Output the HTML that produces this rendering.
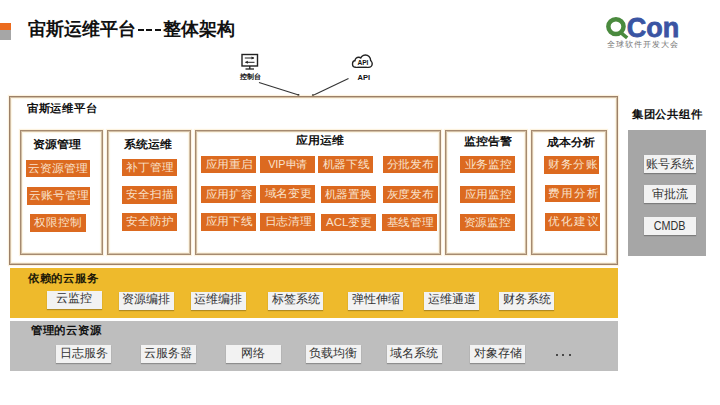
<!DOCTYPE html>
<html><head><meta charset="utf-8">
<style>
*{margin:0;padding:0;box-sizing:border-box}
html,body{width:720px;height:405px;overflow:hidden;background:#fff}
body{position:relative;font-family:"Liberation Sans",sans-serif;color:#111}
.a{position:absolute}
.t{position:absolute;white-space:nowrap;line-height:1}
.box{position:absolute;border:1px solid #a58a70;box-shadow:inset 0 0 0 1px rgba(175,145,115,.55),0 0 1px 1px rgba(250,225,175,.4),inset 0 0 1px 2px rgba(250,225,175,.35)}
.ob{position:absolute;background:#dc6a20;color:#f9e2cc;font-size:12px;line-height:16.5px;text-align:center;white-space:nowrap;height:17.5px;width:55px}
.wb{position:absolute;background:#f2f2f2;color:#333;font-size:12px;line-height:18px;text-align:center;white-space:nowrap;height:18px;width:55px;box-shadow:0 1px 1px rgba(0,0,0,.25)}
.h{font-weight:bold;font-size:12px}
.ob span{display:inline-block;transform:scale(0.96,0.9)}
.h6{transform:scale(0.975,0.94);transform-origin:0 0}
.h4{transform:scale(1,0.92);transform-origin:0 0}
</style></head><body>

<!-- title bar marker -->
<div class="a" style="left:0;top:23px;width:11px;height:7px;background:#ec6b1e"></div>
<div class="a" style="left:0;top:30px;width:11px;height:10px;background:#a6a6a6"></div>
<div class="t" style="left:28px;top:19.7px;font-size:18px;font-weight:bold;color:#111">宙斯运维平台</div>
<div class="a" style="left:138px;top:29px;width:6px;height:2px;background:#111"></div>
<div class="a" style="left:146.3px;top:29px;width:6px;height:2px;background:#111"></div>
<div class="a" style="left:154.6px;top:29px;width:6px;height:2px;background:#111"></div>
<div class="t" style="left:163px;top:19.7px;font-size:18px;font-weight:bold;color:#111">整体架构</div>

<!-- QCon logo -->
<svg class="a" style="left:0;top:0" width="720" height="50">
<ellipse cx="615.95" cy="26.6" rx="7.6" ry="7.3" fill="none" stroke="#4a8a3e" stroke-width="4.5"/>
<line x1="621" y1="32.8" x2="627.2" y2="37.8" stroke="#4a8a3e" stroke-width="3.6"/>
</svg>
<div class="t" style="left:626.8px;top:14.5px;font-size:27px;font-weight:bold;letter-spacing:0px;color:#3a55a3;-webkit-text-stroke:0.8px #3a55a3">Con</div>
<div class="t" style="left:607px;top:41.3px;font-size:8px;color:#777;letter-spacing:1px">全球软件开发大会</div>

<!-- icons -->
<svg class="a" style="left:0;top:0" width="720" height="110">
  <rect x="242" y="54.5" width="15.5" height="11.5" fill="none" stroke="#222" stroke-width="1.4"/>
  <line x1="249.8" y1="66" x2="249.8" y2="69" stroke="#222" stroke-width="1.3"/>
  <line x1="245.5" y1="69" x2="254" y2="69" stroke="#222" stroke-width="1.3"/>
  <line x1="244.8" y1="58" x2="254" y2="58" stroke="#222" stroke-width="1"/>
  <path d="M251.5 56.5 L254.3 58 L251.5 59.5Z" fill="#222"/>
  <line x1="245.5" y1="62.3" x2="254.5" y2="62.3" stroke="#222" stroke-width="1"/>
  <path d="M247.8 60.8 L245 62.3 L247.8 63.8Z" fill="#222"/>
  <circle cx="355.9" cy="63.9" r="4.1" fill="#222"/><circle cx="358.6" cy="60.8" r="4.2" fill="#222"/><circle cx="365.4" cy="60.2" r="5.9" fill="#222"/><circle cx="368.6" cy="63.7" r="4.3" fill="#222"/><rect x="355.9" y="60" width="12.7" height="8.0" fill="#222"/><circle cx="355.9" cy="63.9" r="2.7" fill="#fff"/><circle cx="358.6" cy="60.8" r="2.8" fill="#fff"/><circle cx="365.4" cy="60.2" r="4.5" fill="#fff"/><circle cx="368.6" cy="63.7" r="2.9000000000000004" fill="#fff"/><rect x="355.9" y="60" width="12.7" height="6.599999999999994" fill="#fff"/>
  <line x1="259" y1="82.5" x2="298.6" y2="95.1" stroke="#333" stroke-width="1.1"/><circle cx="298.4" cy="95" r="1.1" fill="#222"/>
  <line x1="348.5" y1="78.5" x2="312.8" y2="95.4" stroke="#333" stroke-width="1.1"/><circle cx="312.9" cy="95.3" r="1.1" fill="#222"/>
</svg>
<div class="t" style="left:357.4px;top:59.8px;font-size:6.6px;font-weight:bold">API</div>
<div class="t" style="left:240px;top:73.3px;font-size:7px;font-weight:bold">控制台</div>
<div class="t" style="left:357.5px;top:74px;font-size:7.5px;font-weight:bold">API</div>

<!-- platform box -->
<div class="box" style="left:9px;top:96px;width:609px;height:169px;border-color:#9c8068"></div>
<div class="t h h6" style="left:27.3px;top:102.6px;font-size:12px">宙斯运维平台</div>

<!-- sub boxes -->
<div class="box" style="left:20px;top:130px;width:83px;height:125px"></div>
<div class="t h h4" style="left:33.2px;top:139.0px">资源管理</div>
<div class="ob" style="left:26px;top:159.5px;width:64px"><span style="transform:scale(0.99,0.92)">云资源管理</span></div>
<div class="ob" style="left:27px;top:187px;width:63px"><span style="transform:scale(0.99,0.92)">云账号管理</span></div>
<div class="ob" style="left:30px;top:214px;width:55.5px"><span style="transform:scale(1,0.95)">权限控制</span></div>

<div class="box" style="left:107px;top:130px;width:84px;height:125px"></div>
<div class="t h h4" style="left:124px;top:139.1px">系统运维</div>
<div class="ob" style="left:122px;top:158.5px"><span style="transform:scale(1,0.95)">补丁管理</span></div>
<div class="ob" style="left:122px;top:186px"><span style="transform:scale(1,0.95)">安全扫描</span></div>
<div class="ob" style="left:122px;top:213px"><span style="transform:scale(1,0.95)">安全防护</span></div>

<div class="box" style="left:194.5px;top:130px;width:246.5px;height:125px"></div>
<div class="t h h4" style="left:295.6px;top:134.7px">应用运维</div>
<div class="ob" style="left:201px;top:155.5px"><span>应用重启</span></div>
<div class="ob" style="left:260px;top:155.5px"><span style="transform:scale(0.9,0.9)">VIP申请</span></div>
<div class="ob" style="left:318px;top:155.5px"><span>机器下线</span></div>
<div class="ob" style="left:382.5px;top:155.5px"><span>分批发布</span></div>
<div class="ob" style="left:201px;top:185.5px"><span>应用扩容</span></div>
<div class="ob" style="left:260px;top:185px"><span>域名变更</span></div>
<div class="ob" style="left:320.5px;top:185.5px"><span>机器置换</span></div>
<div class="ob" style="left:382.5px;top:185.5px"><span>灰度发布</span></div>
<div class="ob" style="left:201px;top:213px"><span>应用下线</span></div>
<div class="ob" style="left:260px;top:213px"><span>日志清理</span></div>
<div class="ob" style="left:321px;top:213.5px"><span>ACL变更</span></div>
<div class="ob" style="left:382px;top:213.5px"><span>基线管理</span></div>

<div class="box" style="left:445px;top:130px;width:82px;height:125px"></div>
<div class="t h h4" style="left:463.5px;top:135.8px">监控告警</div>
<div class="ob" style="left:460px;top:155.5px"><span>业务监控</span></div>
<div class="ob" style="left:460px;top:185.5px"><span>应用监控</span></div>
<div class="ob" style="left:459.5px;top:213.5px"><span>资源监控</span></div>

<div class="box" style="left:531px;top:130px;width:76px;height:125px"></div>
<div class="t h h4" style="left:547px;top:136.9px">成本分析</div>
<div class="ob" style="left:544px;top:156px"><span style="transform:scale(1,0.95);letter-spacing:0.7px;margin-right:-0.7px;position:relative;left:1.5px">财务分账</span></div>
<div class="ob" style="left:544.5px;top:184.5px"><span style="transform:scale(1,0.95);letter-spacing:0.7px;margin-right:-0.7px;position:relative;left:1.5px">费用分析</span></div>
<div class="ob" style="left:544.5px;top:213px"><span style="transform:scale(1,0.95);letter-spacing:0.7px;margin-right:-0.7px;position:relative;left:1.5px">优化建议</span></div>

<!-- group components -->
<div class="t h h6" style="left:632.3px;top:109.1px;font-size:12px">集团公共组件</div>
<div class="a" style="left:628px;top:130px;width:78px;height:126px;background:#a6a6a6"></div>
<div class="wb" style="left:644px;top:155px;width:52px;line-height:18.4px">账号系统</div>
<div class="wb" style="left:644px;top:185px;width:52px;line-height:18px">审批流</div>
<div class="wb" style="left:644px;top:216.5px;width:52px;line-height:18.6px"><span style="display:inline-block;transform:scaleX(0.9)">CMDB</span></div>

<!-- cloud services -->
<div class="a" style="left:10px;top:268px;width:608px;height:49.5px;background:#eeba2c"></div>
<div class="t h h6" style="left:28px;top:273px;font-size:12px;color:#221a08">依赖的云服务</div>
<div class="wb" style="line-height:15.8px;left:46.5px;top:290.5px">云监控</div>
<div class="wb" style="line-height:15.8px;left:118.75px;top:292px">资源编排</div>
<div class="wb" style="line-height:15.8px;left:190.75px;top:292px">运维编排</div>
<div class="wb" style="line-height:15.8px;left:268.25px;top:292px">标签系统</div>
<div class="wb" style="line-height:15.8px;left:348px;top:292px">弹性伸缩</div>
<div class="wb" style="line-height:15.8px;left:424.25px;top:291.5px">运维通道</div>
<div class="wb" style="line-height:15.8px;left:499.25px;top:292px">财务系统</div>

<!-- managed resources -->
<div class="a" style="left:10px;top:321px;width:607.5px;height:49.5px;background:#bebebe"></div>
<div class="t h h6" style="left:31px;top:324.6px;font-size:12px;color:#111">管理的云资源</div>
<div class="wb" style="line-height:17.8px;left:56.25px;top:345px">日志服务</div>
<div class="wb" style="line-height:17.8px;left:140.75px;top:345px">云服务器</div>
<div class="wb" style="line-height:17.8px;left:225.75px;top:345px">网络</div>
<div class="wb" style="line-height:17.8px;left:305.75px;top:345px">负载均衡</div>
<div class="wb" style="line-height:17.8px;left:386.75px;top:345px">域名系统</div>
<div class="wb" style="line-height:17.8px;left:470px;top:345px">对象存储</div>
<div class="a" style="left:555.8px;top:353.7px;width:2.2px;height:2.2px;border-radius:50%;background:#222"></div><div class="a" style="left:562.1999999999999px;top:353.7px;width:2.2px;height:2.2px;border-radius:50%;background:#222"></div><div class="a" style="left:568.6999999999999px;top:353.7px;width:2.2px;height:2.2px;border-radius:50%;background:#222"></div>

</body></html>
